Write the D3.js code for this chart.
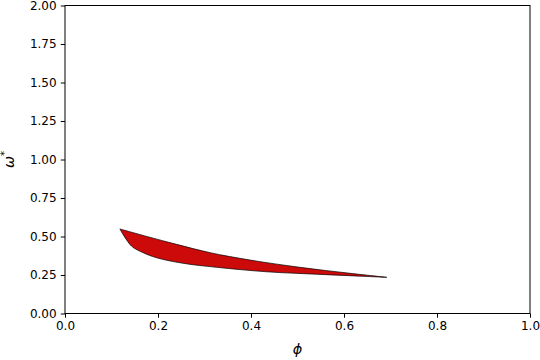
<!DOCTYPE html>
<head>
  <meta charset="utf-8">
  <script src="https://d3js.org/d3.v7.min.js"></script>
  <style>
    body { margin:0; background:white; }
    text { font-family: 'DejaVu Sans', sans-serif; }
  </style>
</head>
<body>
<script>
  // upper edge of the region, left to right
  const upperPhi   = [0.118, 0.18, 0.240, 0.312, 0.398, 0.505, 0.613, 0.692];
  const upperOmega = [0.549, 0.497, 0.449, 0.395, 0.347, 0.300, 0.261, 0.235];
  // lower edge of the region, left to right
  const lowerPhi   = [0.118, 0.143, 0.168, 0.197, 0.254, 0.326, 0.434, 0.541, 0.692];
  const lowerOmega = [0.549, 0.438, 0.395, 0.362, 0.326, 0.300, 0.271, 0.255, 0.235];

  const xTicks = [0, 0.2, 0.4, 0.6, 0.8, 1.0];
  const yTicks = [0, 0.25, 0.5, 0.75, 1.0, 1.25, 1.5, 1.75, 2.0];

  const W = 540, H = 360;
  const margin = {left: 65, right: 10, top: 5.5, bottom: 46.5};

  const svg = d3.select('body').append('svg')
      .attr('width', W).attr('height', H);

  const x = d3.scaleLinear().domain([0, 1]).range([margin.left, W - margin.right]);
  const y = d3.scaleLinear().domain([0, 2]).range([H - margin.bottom, margin.top]);

  const upper = upperPhi.map((p, i) => [p, upperOmega[i]]);
  const lower = lowerPhi.map((p, i) => [p, lowerOmega[i]]).reverse();

  const line = d3.line()
      .x(d => x(d[0]))
      .y(d => y(d[1]))
      .curve(d3.curveCatmullRom.alpha(0.5));

  // closed outline: upper edge forward, lower edge back
  const outlinePath = line(upper) + line(lower).replace(/^M/, 'L') + 'Z';

  svg.append('path')
      .attr('d', outlinePath)
      .style('fill', '#cc0a0a')
      .style('stroke', 'black')
      .style('stroke-width', 0.7)
      .style('stroke-linejoin', 'round');

  // axes
  const xAxis = svg.append('g')
      .attr('transform', `translate(0,${H - margin.bottom})`)
      .call(d3.axisBottom(x).tickValues(xTicks).tickFormat(d3.format('.1f')).tickSizeOuter(0).tickSize(4.2).tickPadding(4.2));

  const yAxis = svg.append('g')
      .attr('transform', `translate(${margin.left},0)`)
      .call(d3.axisLeft(y).tickValues(yTicks).tickFormat(d3.format('.2f')).tickSizeOuter(0).tickSize(4.2).tickPadding(4.2));

  [xAxis, yAxis].forEach(g => {
    g.selectAll('text').style('font-size', '12px').style('fill', 'black')
      .style('font-family', "'DejaVu Sans', sans-serif");
    g.selectAll('line').style('stroke', 'black').style('stroke-width', 1);
    g.select('.domain').remove();
  });

  // frame
  svg.append('rect')
      .attr('x', margin.left).attr('y', margin.top)
      .attr('width', W - margin.left - margin.right)
      .attr('height', H - margin.top - margin.bottom)
      .style('fill', 'none').style('stroke', 'black').style('stroke-width', 1);

  // axis labels
  svg.append('text')
      .attr('x', (x(0) + x(1)) / 2).attr('y', 354)
      .attr('text-anchor', 'middle')
      .style('font-size', '14.4px').style('font-style', 'italic')
      .text('ϕ');

  const yl = svg.append('text')
      .attr('transform', `translate(14,${(y(0) + y(2)) / 2}) rotate(-90)`)
      .attr('text-anchor', 'middle')
      .style('font-size', '14.4px');
  yl.append('tspan').style('font-style', 'italic').text('ω');
  yl.append('tspan').attr('dy', -6).style('font-size', '10px').text('*');
</script>
</body>
